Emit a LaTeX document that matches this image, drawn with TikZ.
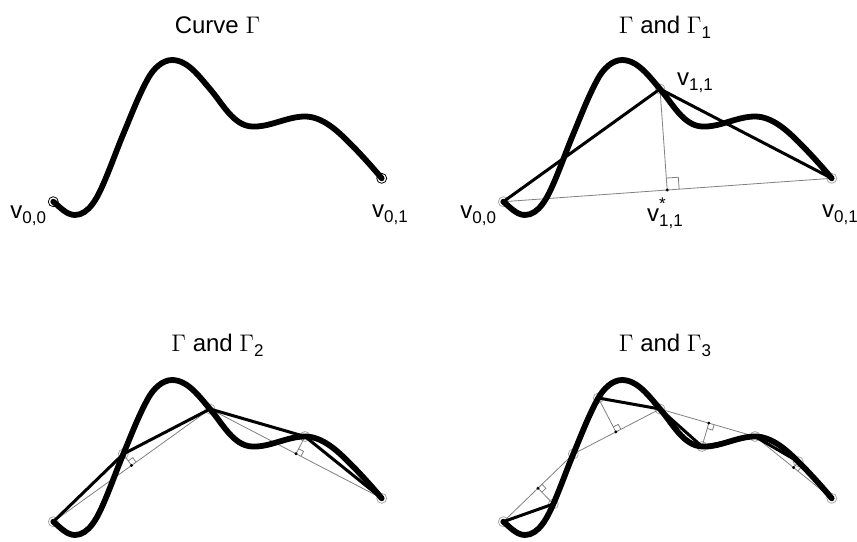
\documentclass[tikz,border=0pt]{standalone}
\usepackage{amsmath}
\usepackage{fontspec}
\setmainfont{Liberation Sans}
\usepackage{tikz}
\usetikzlibrary{calc}
\usepackage{xcolor}
\definecolor{chordgray}{HTML}{808080}
\definecolor{ringgray}{HTML}{A8A8A8}

% curve Gamma, pixel units
\newcommand{\curveGamma}{(53.3,201.7) .. controls (59.9,207) and (66.5,215) .. (75,215)
  .. controls (89,215) and (97.7,196.8) .. (103.3,184)
  .. controls (110.5,167.5) and (116.4,150.6) .. (123.3,134)
  .. controls (131.2,115.2) and (138.4,95.8) .. (148.3,78)
  .. controls (153.1,69.3) and (162.1,60) .. (172,60)
  .. controls (187.9,60) and (199.6,77) .. (210,89)
  .. controls (222.3,103.2) and (233.2,125.6) .. (252,126.5)
  .. controls (270,127.4) and (287,116.5) .. (305,116.5)
  .. controls (321.7,116.5) and (336.5,129.9) .. (348.3,141.7)
  .. controls (360,153.4) and (371.1,165.6) .. (381.7,178.3)}

\newcommand{\setVertices}{%
  \coordinate (v00) at (53.3,201.7);
  \coordinate (v31) at (103.3,184);
  \coordinate (v21) at (123.3,134);
  \coordinate (v32) at (148.3,78);
  \coordinate (v11) at (210,89);
  \coordinate (v33) at (252,126.5);
  \coordinate (v22) at (305,116.5);
  \coordinate (v34) at (348.3,141.7);
  \coordinate (v01) at (381.7,178.3);
}

% index set low, as in the drawing
\newcommand{\lowIdx}[1]{\raisebox{-2.6pt}{\fontsize{8.5}{10}\selectfont #1}}

% chord start, chord end, vertex, mark size
\newcommand{\footMark}[4]{%
  \coordinate (f) at ($(#1)!(#3)!(#2)$);
  \draw[thinLine] (#3) -- (f);
  \draw[thinLine] ($(f)!#4!(#2)$) -- ($(f)!#4!(#2) + (f)!#4!(#3) - (f)$) -- ($(f)!#4!(#3)$);
  \fill[footDot] (f) circle[radius=0.8pt];
}

\begin{document}
\begin{tikzpicture}[x=0.5pt, y=-0.5pt,
    curveLine/.style={line width=2.9pt, line cap=round, line join=round},
    polyLine/.style={line width=1.5pt, line join=round},
    thinLine/.style={line width=0.4pt, draw=chordgray},
    vertexRing/.style={line width=0.4pt, draw=ringgray},
    footDot/.style={fill=black},
    labelText/.style={font=\fontsize{12}{14}\selectfont, inner sep=0pt, anchor=base west},
    titleText/.style={font=\fontsize{12}{14}\selectfont, inner sep=0pt, anchor=base}
]
    \useasboundingbox (0,0) rectangle (857,541);

    \begin{scope}
        \setVertices
        \node[titleText] (t0) at (217.5,33) {Curve $\Gamma$};
        \draw[vertexRing, draw=black] (v00) circle[radius=2.5pt] (v01) circle[radius=2.5pt];
        \draw[curveLine] \curveGamma;
        \node[labelText] (a00) at (10,218) {v\lowIdx{0,0}};
        \node[labelText] (a01) at (371.7,217.5) {v\lowIdx{0,1}};
    \end{scope}

    \begin{scope}[shift={(450,0)}]
        \setVertices
        \node[titleText] (t1) at (215,33) {$\Gamma$ and $\Gamma$\lowIdx{1}};
        \draw[vertexRing] (v00) circle[radius=2.5pt] (v11) circle[radius=2.5pt] (v01) circle[radius=2.5pt];
        \draw[thinLine] (v00) -- (v01);
        \footMark{v00}{v01}{v11}{6pt}
        \draw[curveLine] \curveGamma;
        \draw[polyLine] (v00) -- (v11) -- (v01);
        \node[labelText] (b00) at (10,218) {v\lowIdx{0,0}};
        \node[labelText] (b11) at (226.7,85) {v\lowIdx{1,1}};
        \node[labelText] (b11s) at (196.7,221.5) {v\rlap{\raisebox{5.8pt}{\fontsize{8.5}{10}\selectfont *}}\lowIdx{1,1}};
        \node[labelText] (b01) at (371.7,217.5) {v\lowIdx{0,1}};
    \end{scope}

    \begin{scope}[shift={(0,320)}]
        \setVertices
        \node[titleText] (t2) at (217.5,31) {$\Gamma$ and $\Gamma$\lowIdx{2}};
        \foreach \v in {v00,v21,v11,v22,v01}
            \draw[vertexRing] (\v) circle[radius=2.5pt];
        \draw[thinLine] (v00) -- (v11) -- (v01);
        \footMark{v00}{v11}{v21}{2.8pt}
        \footMark{v11}{v01}{v22}{2.8pt}
        \draw[curveLine] \curveGamma;
        \draw[polyLine] (v00) -- (v21) -- (v11) -- (v22) -- (v01);
    \end{scope}

    \begin{scope}[shift={(450,320)}]
        \setVertices
        \node[titleText] (t3) at (215,31) {$\Gamma$ and $\Gamma$\lowIdx{3}};
        \foreach \v in {v00,v31,v21,v32,v11,v33,v22,v34,v01}
            \draw[vertexRing] (\v) circle[radius=2.5pt];
        \draw[thinLine] (v00) -- (v21) -- (v11) -- (v22) -- (v01);
        \footMark{v00}{v21}{v31}{2.8pt}
        \footMark{v21}{v11}{v32}{2.8pt}
        \footMark{v11}{v22}{v33}{2.8pt}
        \footMark{v22}{v01}{v34}{2.8pt}
        \draw[curveLine] \curveGamma;
        \draw[polyLine] (v00) -- (v31) -- (v21) -- (v32) -- (v11) -- (v33) -- (v22) -- (v34) -- (v01);
    \end{scope}
\end{tikzpicture}
\end{document}
